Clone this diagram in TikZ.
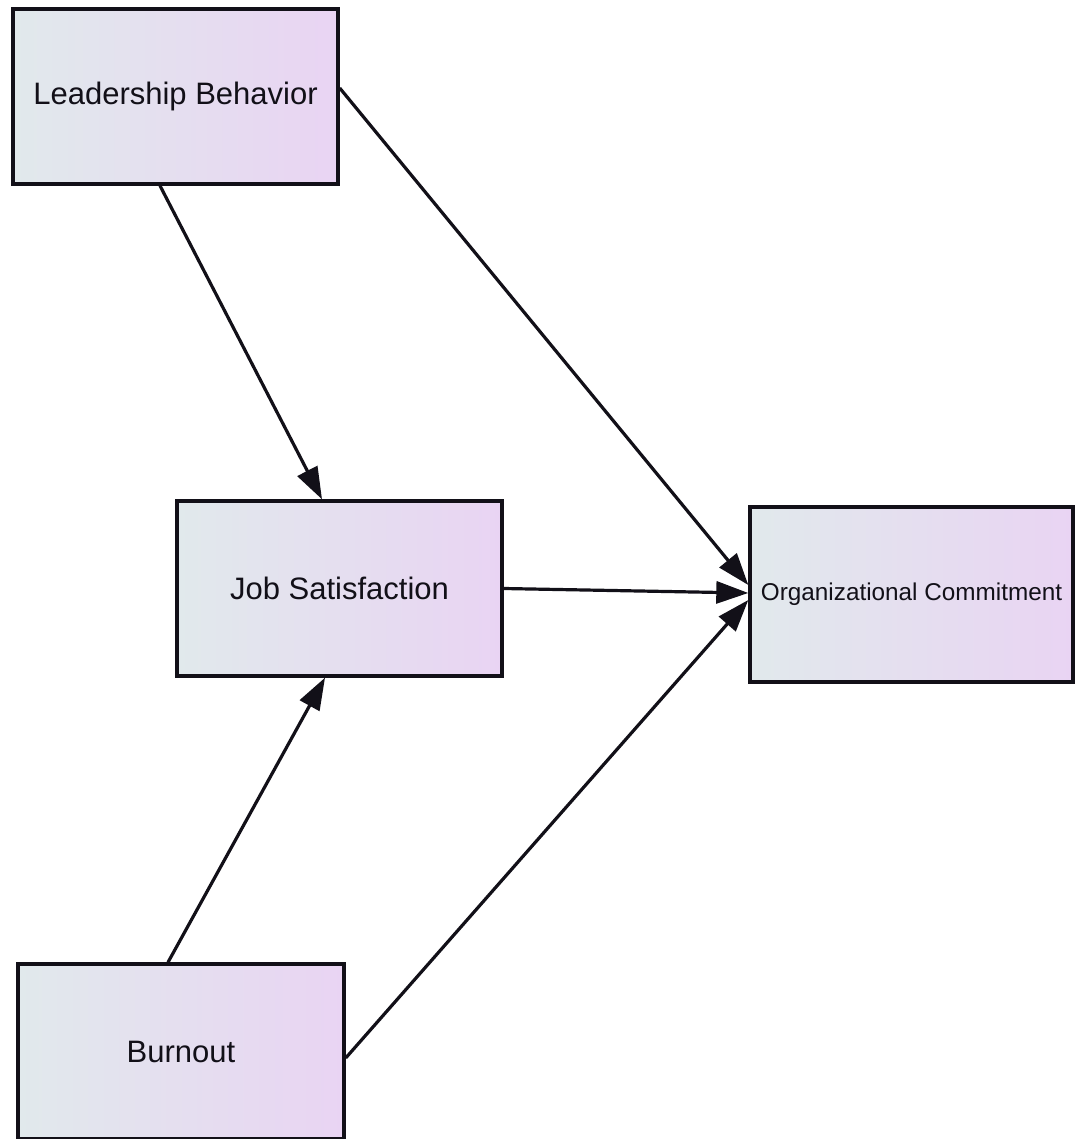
\documentclass[tikz,border=0pt]{standalone}
\usepackage{fontspec}
\setmainfont{Liberation Sans}
\usetikzlibrary{arrows.meta}
\definecolor{boxleft}{RGB}{225,233,236}
\definecolor{boxright}{RGB}{233,212,243}
\definecolor{ink}{RGB}{18,16,24}
\tikzset{
  varbox/.style={draw=ink, line width=3.4pt, left color=boxleft, right color=boxright,
    minimum height=175pt, inner sep=0pt, text=ink, font=\fontsize{31}{36}\selectfont},
  path/.style={draw=ink, line width=3.2pt, -{Triangle[length=32pt,width=22pt]}}
}
\begin{document}
\begin{tikzpicture}[x=1pt,y=-1pt]
\useasboundingbox (0,0) rectangle (1074,1139);
\node[varbox, minimum width=325pt] (LB) at (175.5,96.5) {Leadership Behavior};
\node[varbox, minimum width=325pt] (JS) at (339.5,588.5) {Job Satisfaction};
\node[varbox, minimum width=323pt, font=\fontsize{24.3}{28}\selectfont] (OC) at (911.5,594.5) {Organizational Commitment};
\node[varbox, minimum width=326pt] (BO) at (181,1051.5) {Burnout};
\draw[path] ([xshift=-15.5pt]LB.south) -- ([xshift=-17.5pt]JS.north);
\draw[path] ([yshift=8.5pt]LB.east) -- ([yshift=9.5pt]OC.west);
\draw[path] (JS.east) -- ([yshift=1.5pt]OC.west);
\draw[path] ([xshift=-13pt]BO.north) -- ([xshift=-14.5pt]JS.south);
\draw[path] ([yshift=-6.5pt]BO.east) -- ([yshift=-5.5pt]OC.west);
\end{tikzpicture}
\end{document}
